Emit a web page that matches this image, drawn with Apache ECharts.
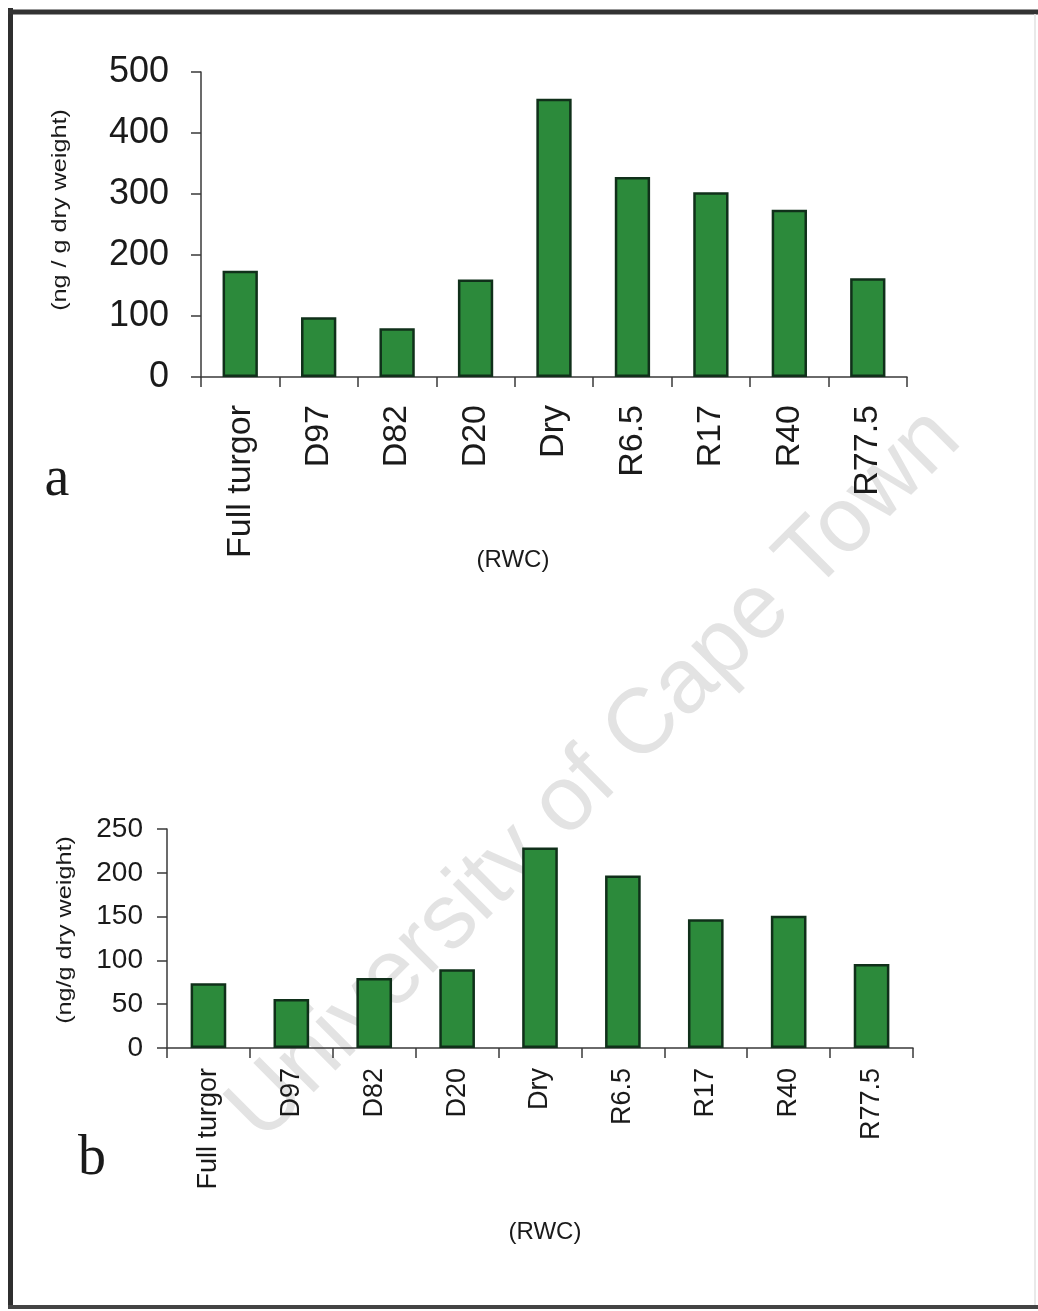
<!DOCTYPE html>
<html>
<head>
<meta charset="utf-8">
<script src="https://cdn.jsdelivr.net/npm/echarts@6/dist/echarts.min.js"></script>
<style>
  html, body { margin: 0; padding: 0; background: #fff; }
  #chart-container { width: 1038px; height: 1311px; }
</style>
</head>
<body>
<div id="chart-container"></div>
<script>
// RWC stages (same for both panels)
var stages = ['Full turgor', 'D97', 'D82', 'D20', 'Dry', 'R6.5', 'R17', 'R40', 'R77.5'];
// panel a values (ng / g dry weight)
var valuesA = [174, 98, 80, 160, 456, 328, 303, 274, 162];
// panel b values (ng/g dry weight)
var valuesB = [74, 56, 80, 90, 229, 197, 147, 151, 96];

var dom = document.getElementById('chart-container');
var myChart = echarts.init(dom, null, { renderer: 'canvas' });

var sans = 'Liberation Sans, Arial, sans-serif';
var serif = 'Liberation Serif, Times New Roman, serif';
var axisColor = '#3a3a3a';
var barStyle = {
  color: '#2c8a3b',
  borderColor: '#10301a',
  borderWidth: 2.5
};

function xAxisFor(gridIndex, fontSize, margin) {
  return {
    type: 'category',
    gridIndex: gridIndex,
    data: stages,
    boundaryGap: true,
    axisLine: { lineStyle: { color: axisColor, width: 1.5 } },
    axisTick: { show: true, length: 10, lineStyle: { color: axisColor, width: 1.5 } },
    axisLabel: {
      rotate: 90,
      interval: 0,
      margin: margin,
      fontSize: fontSize,
      fontFamily: sans,
      color: '#1a1a1a'
    },
    splitLine: { show: false }
  };
}

function yAxisFor(gridIndex, max, interval, fontSize, margin) {
  return {
    type: 'value',
    gridIndex: gridIndex,
    min: 0,
    max: max,
    interval: interval,
    axisLine: { show: true, lineStyle: { color: axisColor, width: 1.5 } },
    axisTick: { show: true, length: 10, lineStyle: { color: axisColor, width: 1.5 } },
    axisLabel: { margin: margin, fontSize: fontSize, fontFamily: sans, color: '#1a1a1a' },
    splitLine: { show: false }
  };
}

var option = {
  backgroundColor: '#fff',
  animation: false,
  grid: [
    { left: 201, right: 131, top: 72, bottom: 934 },
    { left: 167, right: 125, top: 829, bottom: 263 }
  ],
  xAxis: [
    xAxisFor(0, 34, 28),
    xAxisFor(1, 27, 20)
  ],
  yAxis: [
    yAxisFor(0, 500, 100, 36, 32),
    yAxisFor(1, 250, 50, 28, 24)
  ],
  series: [
    {
      type: 'bar',
      xAxisIndex: 0,
      yAxisIndex: 0,
      data: valuesA,
      barWidth: '45%',
      itemStyle: barStyle,
      z: 3
    },
    {
      type: 'bar',
      xAxisIndex: 1,
      yAxisIndex: 1,
      data: valuesB,
      barWidth: '43%',
      itemStyle: barStyle,
      z: 3
    }
  ],
  graphic: [
    // watermark
    {
      type: 'text', x: 595, y: 775, rotation: Math.PI / 4, z: 0,
      style: {
        text: 'University of Cape Town', fill: '#e3e3e3',
        font: '92px ' + sans, align: 'center', verticalAlign: 'middle'
      }
    },
    // frame
    { type: 'line', z: 10, shape: { x1: 10.5, y1: 8, x2: 10.5, y2: 1309 }, style: { stroke: '#2f2f2f', lineWidth: 5 } },
    { type: 'line', z: 10, shape: { x1: 8, y1: 12, x2: 1038, y2: 12 }, style: { stroke: '#333', lineWidth: 5 } },
    { type: 'line', z: 10, shape: { x1: 8, y1: 1307, x2: 1038, y2: 1307 }, style: { stroke: '#444', lineWidth: 4 } },
    { type: 'line', z: 10, shape: { x1: 1035, y1: 14, x2: 1035, y2: 1305 }, style: { stroke: '#e2e2e2', lineWidth: 1.5 } },
    // axis names
    {
      type: 'text', x: 60, y: 210, rotation: Math.PI / 2, scaleX: 1.2, z: 10,
      style: { text: '(ng / g dry weight)', fill: '#1a1a1a', font: '21px ' + sans, align: 'center', verticalAlign: 'middle' }
    },
    {
      type: 'text', x: 65, y: 930, rotation: Math.PI / 2, scaleX: 1.2, z: 10,
      style: { text: '(ng/g dry weight)', fill: '#1a1a1a', font: '21px ' + sans, align: 'center', verticalAlign: 'middle' }
    },
    {
      type: 'text', x: 513, y: 560, z: 10,
      style: { text: '(RWC)', fill: '#1a1a1a', font: '24px ' + sans, align: 'center', verticalAlign: 'middle' }
    },
    {
      type: 'text', x: 545, y: 1232, z: 10,
      style: { text: '(RWC)', fill: '#1a1a1a', font: '24px ' + sans, align: 'center', verticalAlign: 'middle' }
    },
    // panel letters
    {
      type: 'text', x: 57, y: 480, z: 10,
      style: { text: 'a', fill: '#1a1a1a', font: '56px ' + serif, align: 'center', verticalAlign: 'middle' }
    },
    {
      type: 'text', x: 92, y: 1159, z: 10,
      style: { text: 'b', fill: '#1a1a1a', font: '56px ' + serif, align: 'center', verticalAlign: 'middle' }
    }
  ]
};

myChart.setOption(option);
window.addEventListener('resize', myChart.resize);
</script>
</body>
</html>
